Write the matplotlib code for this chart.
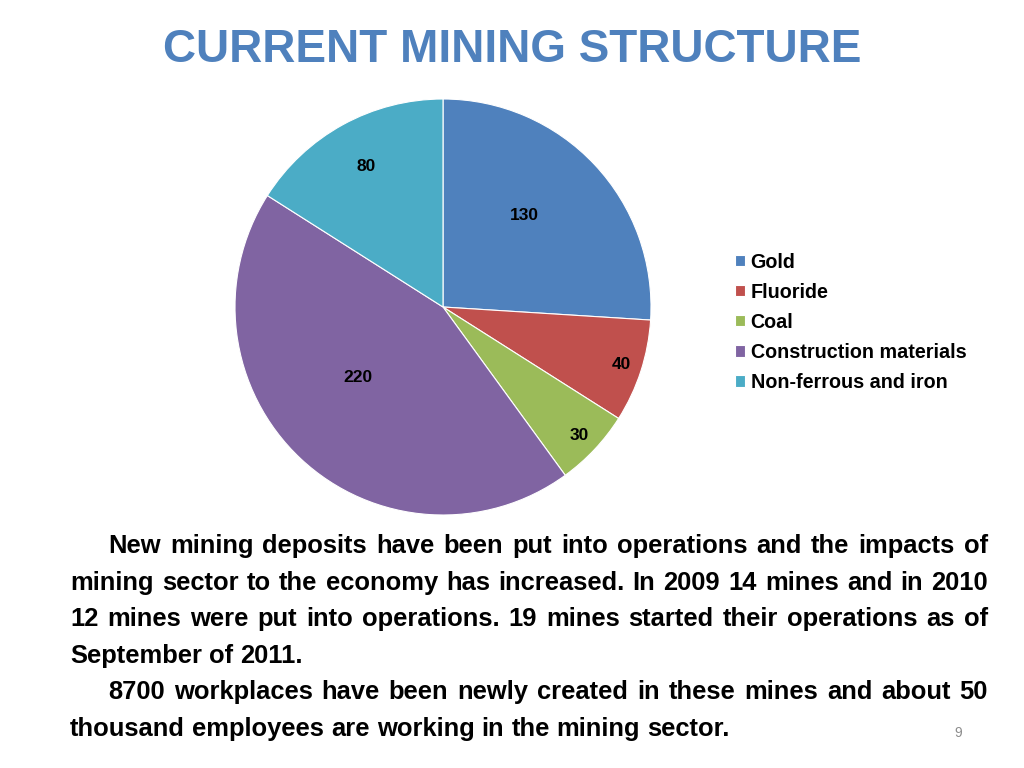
import matplotlib
matplotlib.use("Agg")
import matplotlib.pyplot as plt
from matplotlib import font_manager
import numpy as np

# data
categories = ["Gold", "Fluoride", "Coal", "Construction materials", "Non-ferrous and iron"]
values = [130, 40, 30, 220, 80]
colors = ["#4F81BD", "#C0504D", "#9BBB59", "#8064A2", "#4BACC6"]
# label position as (distance, angle shift in degrees) relative to wedge middle
label_pos = [(0.59, 5), (0.9, 0), (0.9, 0), (0.53, -7), (0.77, 0)]

title = "CURRENT MINING STRUCTURE"
body_lines = [
    ("New mining deposits have been put into operations and the impacts of", True, True),
    ("mining sector to the economy has increased. In 2009 14 mines and in 2010", False, True),
    ("12 mines were put into operations. 19 mines started their operations as of", False, True),
    ("September of 2011.", False, False),
    ("8700 workplaces have been newly created in these mines and about 50", True, True),
    ("thousand employees are working in the mining sector.", False, False),
]
page_no = "9"

names = {f.name for f in font_manager.fontManager.ttflist}
title_font = "Liberation Sans Narrow" if "Liberation Sans Narrow" in names else "Liberation Sans"
plt.rcParams["font.family"] = ["Liberation Sans", "DejaVu Sans"]

W, H = 1024, 768
fig = plt.figure(figsize=(W / 100, H / 100), dpi=100)
fig.patch.set_facecolor("white")

# pie
cx, cy, r = 443, 307, 208
ax = fig.add_axes([(cx - r) / W, (H - cy - r) / H, 2 * r / W, 2 * r / H])
wedges, _ = ax.pie(values, colors=colors, startangle=90, counterclock=False,
                   wedgeprops=dict(edgecolor="white", linewidth=0.8))
ax.set_xlim(-1, 1)
ax.set_ylim(-1, 1)
ax.set_aspect("equal")
ax.axis("off")
for w, v, (d, sh) in zip(wedges, values, label_pos):
    ang = np.deg2rad((w.theta1 + w.theta2) / 2 + sh)
    ax.text(d * np.cos(ang), d * np.sin(ang), str(v), ha="center", va="center",
            fontsize=12.5, fontweight="bold", color="black")

# legend
leg = fig.legend(wedges, categories, loc="upper left", bbox_to_anchor=(717 / W, 1 - 235 / H),
                 frameon=False, prop=dict(weight="bold", size=14.2),
                 handlelength=0.5, handleheight=0.5, handletextpad=0.3, labelspacing=0.56)

# title
fig.text(512 / W, 1 - 50 / H, title, ha="center", va="center", fontsize=33,
         fontweight="bold", color="#4F81BD", family=title_font)

# justified body text
renderer = fig.canvas.get_renderer()
left, right, indent = 70, 988, 108
y0, dy = 553, 36.6
fs = 18.4
probe2 = fig.text(0, 0, "a a", fontsize=fs, fontweight="bold")
probe1 = fig.text(0, 0, "aa", fontsize=fs, fontweight="bold")
sw = probe2.get_window_extent(renderer).width - probe1.get_window_extent(renderer).width
probe1.remove()
probe2.remove()
for i, (line, ind, just) in enumerate(body_lines):
    y = 1 - (y0 + i * dy) / H
    x_start = indent if ind else left
    words = line.split(" ")
    texts = [fig.text(0, y, wd, ha="left", va="baseline", fontsize=fs, fontweight="bold")
             for wd in words]
    widths = [t.get_window_extent(renderer).width for t in texts]
    if just and len(words) > 1:
        gap = (right - x_start - sum(widths)) / (len(words) - 1)
    else:
        gap = sw
    x = x_start
    for t, wdt in zip(texts, widths):
        t.set_x(x / W)
        x += wdt + gap

fig.text(958 / W, 1 - 733 / H, page_no, ha="center", va="center", fontsize=10, color="#8C8C8C")

fig.savefig("out.png", dpi=100)
